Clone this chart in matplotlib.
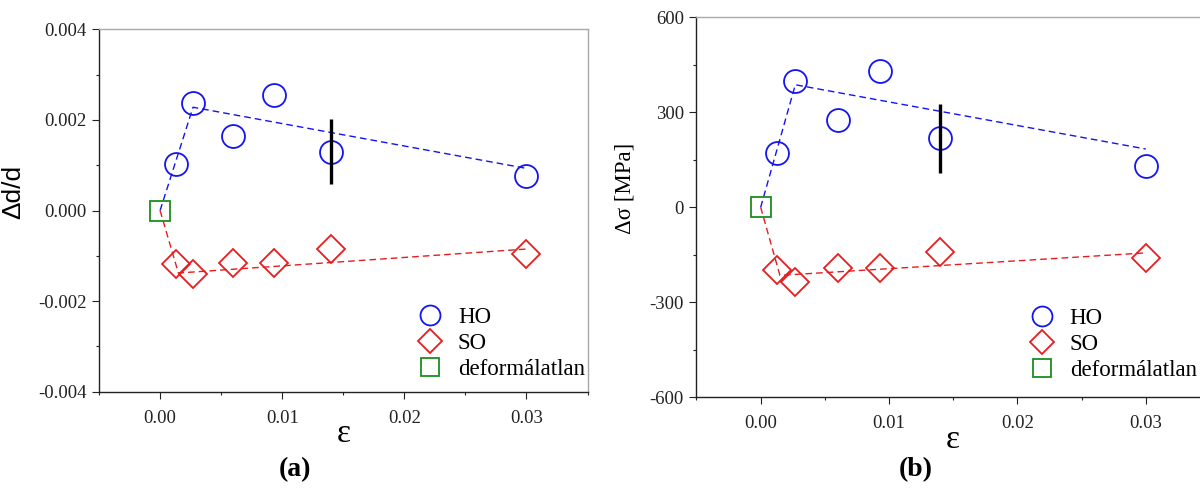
import matplotlib
matplotlib.use("Agg")
import matplotlib.pyplot as plt
from matplotlib.ticker import MultipleLocator, AutoMinorLocator, FormatStrFormatter

plt.rcParams["axes.unicode_minus"] = False
plt.rcParams["font.family"] = "Liberation Serif"

# strain values shared by both panels
strain = [0.0013, 0.0027, 0.0060, 0.0093, 0.0140, 0.0300]

# (a) relative lattice spacing change
dd_ho = [0.00102, 0.00238, 0.00165, 0.00256, 0.00130, 0.00077]
dd_so = [-0.00118, -0.00140, -0.00115, -0.00115, -0.00084, -0.00095]
dd_err_x = [0.0140]
dd_err_y = [0.00130]
dd_err = [0.00072]
dd_ho_fit_x = [0.0, 0.0027, 0.0300]
dd_ho_fit_y = [0.0, 0.00228, 0.00093]
dd_so_fit_x = [0.0, 0.0015, 0.0300]
dd_so_fit_y = [0.0, -0.00138, -0.00085]

# (b) residual stress in MPa
sig_ho = [172, 400, 277, 430, 218, 130]
sig_so = [-197, -235, -193, -193, -142, -160]
sig_err_x = [0.0140]
sig_err_y = [217]
sig_err = [109]
sig_ho_fit_x = [0.0, 0.0027, 0.0300]
sig_ho_fit_y = [0, 387, 184]
sig_so_fit_x = [0.0, 0.0015, 0.0300]
sig_so_fit_y = [0, -215, -144]

# undeformed reference sample
ref_x = [0.0]
ref_y = [0.0]

BLUE = "#1414f0"
RED = "#e81c1c"
GREEN = "#1e8c1e"
DASH = (4.8, 2.9)


def draw_panel(ax, ho, so, ho_fit, so_fit, err, legend_anchor):
    ax.plot(*ho_fit, color=BLUE, lw=1.0, dashes=DASH, zorder=2)
    ax.plot(*so_fit, color=RED, lw=1.0, dashes=DASH, zorder=2)
    ax.plot(strain, ho, "o", ms=16.5, mfc="none", mec=BLUE, mew=1.3,
            ls="none", label="HO", zorder=3)
    ax.plot(strain, so, "D", ms=14, mfc="none", mec=RED, mew=1.3,
            ls="none", label="SO", zorder=3)
    ax.plot(ref_x, ref_y, "s", ms=15, mfc="none", mec=GREEN, mew=1.3,
            ls="none", label="deformálatlan", zorder=3)
    ex, ey, ee = err
    ax.errorbar(ex, ey, yerr=ee, fmt="none", ecolor="black", elinewidth=2.4,
                capsize=0, zorder=4)

    ax.set_xlim(-0.005, 0.035)
    ax.xaxis.set_major_locator(MultipleLocator(0.01))
    ax.xaxis.set_major_formatter(FormatStrFormatter("%.2f"))
    ax.xaxis.set_minor_locator(AutoMinorLocator(2))
    ax.yaxis.set_minor_locator(AutoMinorLocator(2))
    ax.tick_params(which="major", direction="out", length=5, width=0.8,
                   labelsize=13.5, colors="#222222", pad=4)
    ax.tick_params(which="minor", direction="out", length=2.5, width=0.8,
                   colors="#222222")
    ax.tick_params(axis="x", pad=8)
    for side in ("left", "bottom"):
        ax.spines[side].set_color("#222222")
        ax.spines[side].set_linewidth(1.0)
    for side in ("top", "right"):
        ax.spines[side].set_color("#a8a8a8")
        ax.spines[side].set_linewidth(1.0)

    ax.set_xlabel("ε", fontsize=24, labelpad=-6)
    ax.legend(loc="center left", bbox_to_anchor=legend_anchor, frameon=False,
              fontsize=16.5, handlelength=1.0, handletextpad=0.72,
              labelspacing=0.22, borderpad=0, borderaxespad=0,
              markerscale=0.87)


fig = plt.figure(figsize=(12, 5.04), dpi=100)

ax_a = fig.add_axes([0.0825, 0.2228, 0.4071, 0.7190])
draw_panel(ax_a, dd_ho, dd_so, (dd_ho_fit_x, dd_ho_fit_y),
           (dd_so_fit_x, dd_so_fit_y), (dd_err_x, dd_err_y, dd_err),
           (0.654, 0.134))
ax_a.set_ylim(-0.004, 0.004)
ax_a.yaxis.set_major_locator(MultipleLocator(0.002))
ax_a.yaxis.set_major_formatter(FormatStrFormatter("%.3f"))
ax_a.set_ylabel("Δd/d", fontsize=19, family="Liberation Sans")
ax_a.yaxis.set_label_coords(-0.151, 0.551)

ax_b = fig.add_axes([0.5804, 0.2117, 0.4279, 0.7540])
draw_panel(ax_b, sig_ho, sig_so, (sig_ho_fit_x, sig_ho_fit_y),
           (sig_so_fit_x, sig_so_fit_y), (sig_err_x, sig_err_y, sig_err),
           (0.650, 0.138))
ax_b.set_ylim(-600, 600)
ax_b.yaxis.set_major_locator(MultipleLocator(300))
ax_b.yaxis.set_major_formatter(FormatStrFormatter("%d"))
ax_b.set_ylabel("Δσ [MPa]", fontsize=16.5)
ax_b.yaxis.set_label_coords(-0.118, 0.551)

fig.text(295 / 1200, 1 - 470 / 504, "(a)", fontsize=20, fontweight="bold",
         ha="center", va="center")
fig.text(916 / 1200, 1 - 470 / 504, "(b)", fontsize=20, fontweight="bold",
         ha="center", va="center")

fig.savefig("out.png", dpi=100)
